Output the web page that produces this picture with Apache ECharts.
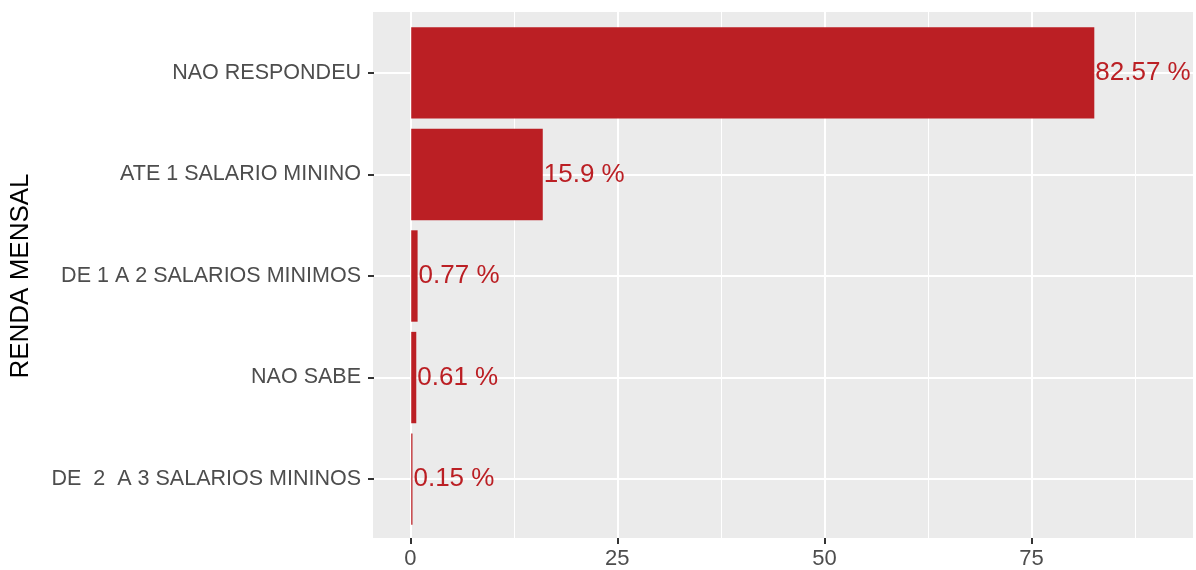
<!DOCTYPE html>
<html>
<head>
<meta charset="utf-8">
<script src="https://cdn.jsdelivr.net/npm/echarts@6/dist/echarts.min.js"></script>
<style>
  html, body { margin: 0; padding: 0; background: #fff; }
</style>
</head>
<body>
<div id="myChart" style="width: 1196px;height: 570px;"></div>
<script>
// dados
var categorias = ['NAO RESPONDEU', 'ATE 1 SALARIO MININO', 'DE 1 A 2 SALARIOS MINIMOS', 'NAO SABE', 'DE  2  A 3 SALARIOS MININOS'];
var percentuais = [82.57, 15.9, 0.77, 0.61, 0.15];
var ticksX = [0, 25, 50, 75];
var ticksXMenor = [12.5, 37.5, 62.5, 87.5];

var vermelho = '#BB1F24';
var fonte = 'Liberation Sans, Arial, sans-serif';

var myChart = echarts.init(document.getElementById('myChart'));
myChart.setOption({
  animation: false,
  textStyle: { fontFamily: fonte },
  grid: [
    // painel cinza inteiro
    { left: 373, right: 3, top: 12, bottom: 30, show: true, backgroundColor: '#EBEBEB', borderWidth: 0 },
    // area das barras (expansao de 0.6 categoria em cada lado)
    { left: 373, right: 3, top: 72.9, bottom: 90.9 }
  ],
  xAxis: [{
    type: 'value', gridIndex: 0, min: -4.5, max: 94.5,
    axisLine: { show: false, onZero: false },
    axisTick: { show: true, length: 6, customValues: ticksX, lineStyle: { color: '#333', width: 2 } },
    axisLabel: { customValues: ticksX, color: '#4D4D4D', fontSize: 22, margin: 10, fontFamily: fonte },
    splitLine: { show: true, lineStyle: { color: '#fff', width: 2 } }
  }, {
    type: 'value', gridIndex: 0, min: -4.5, max: 94.5,
    axisLine: { show: false, onZero: false },
    axisTick: { show: false, customValues: ticksXMenor },
    axisLabel: { show: false },
    splitLine: { show: true, lineStyle: { color: '#fff', width: 1 } }
  }, {
    type: 'value', gridIndex: 1, min: -4.5, max: 94.5, show: false,
    splitLine: { show: false }
  }],
  yAxis: [{
    type: 'value', gridIndex: 0, show: false, splitLine: { show: false }
  }, {
    type: 'category', gridIndex: 1, inverse: true, boundaryGap: false,
    data: categorias,
    name: 'RENDA MENSAL', nameLocation: 'middle', nameGap: 340,
    nameTextStyle: { color: '#000', fontSize: 26, fontFamily: fonte },
    axisLine: { show: false, onZero: false },
    axisTick: { show: true, length: 6, lineStyle: { color: '#333', width: 2 } },
    axisLabel: { color: '#4D4D4D', fontSize: 21.5, margin: 13, fontFamily: fonte },
    splitLine: { show: true, lineStyle: { color: '#fff', width: 2 } }
  }],
  series: [{
    type: 'bar',
    xAxisIndex: 2,
    yAxisIndex: 1,
    barWidth: '90%',
    clip: false,
    itemStyle: { color: vermelho },
    label: {
      show: true, position: 'right', distance: 1,
      color: vermelho, fontSize: 26, fontFamily: fonte,
      formatter: '{c} %'
    },
    data: percentuais
  }]
});
</script>
</body>
</html>
